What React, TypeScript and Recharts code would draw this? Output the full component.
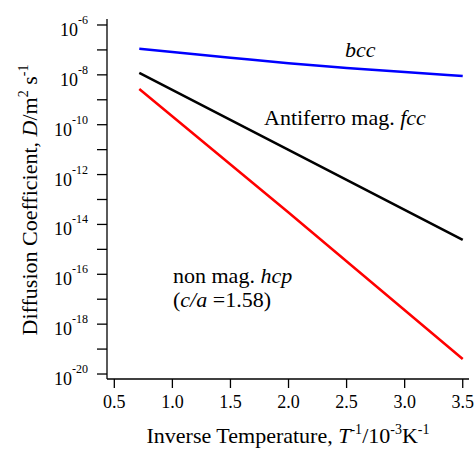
import React from 'react';
import { LineChart, Line, XAxis, YAxis, Customized } from 'recharts';

const FONT = '"Liberation Serif", "Times New Roman", serif';

const xTicks = [0.5, 1.0, 1.5, 2.0, 2.5, 3.0, 3.5];
const yTicks = [1e-20, 1e-19, 1e-18, 1e-17, 1e-16, 1e-15, 1e-14, 1e-13, 1e-12, 1e-11, 1e-10, 1e-9, 1e-8, 1e-7, 1e-6];

const bccX = [0.715, 1.0, 1.5, 2.0, 2.5, 3.0, 3.5];
const bccD = [1.12e-7, 8.3e-8, 4.9e-8, 2.9e-8, 1.9e-8, 1.29e-8, 8.9e-9];

const fccX = [0.715, 2.0, 3.5];
const fccD = [1.2e-8, 9.8e-12, 2.4e-15];

const hcpX = [0.715, 2.0, 3.5];
const hcpD = [2.7e-9, 3.0e-14, 4.0e-20];

const toRows = (xs: number[], ds: number[]) => xs.map((x, i) => ({ x, D: ds[i] }));
const bccData = toRows(bccX, bccD);
const fccData = toRows(fccX, fccD);
const hcpData = toRows(hcpX, hcpD);

const X_DOMAIN: [number, number] = [0.437, 3.554];
const Y_DOMAIN: [number, number] = [Math.pow(10, -20.2), Math.pow(10, -5.76)];

const YTick = (props: any) => {
  const { x, y, payload } = props;
  const e = Math.round(Math.log10(payload.value));
  if (e % 2 !== 0) return null;
  return (
    <text x={x} y={y + 11} textAnchor="end" fontSize={18} fontFamily={FONT} fill="#000">
      10
      <tspan dy={-12} fontSize={12}>{`-${-e}`}</tspan>
    </text>
  );
};

const Texts = () => (
  <g fontFamily={FONT} fill="#000">
    <text x={37} y={200} transform="rotate(-90 37 200)" textAnchor="middle" fontSize={22}>
      Diffusion Coefficient, <tspan fontStyle="italic">D</tspan>/m
      <tspan dy={-9} fontSize={14}>2</tspan>
      <tspan dy={9}> s</tspan>
      <tspan dy={-9} fontSize={14}>-1</tspan>
    </text>
    <text x={288} y={443} textAnchor="middle" fontSize={22}>
      Inverse Temperature, <tspan fontStyle="italic">T</tspan>
      <tspan dy={-9} fontSize={14}>-1</tspan>
      <tspan dy={9}>/10</tspan>
      <tspan dy={-9} fontSize={14}>-3</tspan>
      <tspan dy={9}>K</tspan>
      <tspan dy={-9} fontSize={14}>-1</tspan>
    </text>
    <text x={345} y={57} fontSize={22} fontStyle="italic">bcc</text>
    <text x={264} y={125} fontSize={22}>
      Antiferro mag. <tspan fontStyle="italic">fcc</tspan>
    </text>
    <text x={173} y={283} fontSize={22}>
      non mag. <tspan fontStyle="italic">hcp</tspan>
    </text>
    <text x={173} y={307} fontSize={22}>
      (<tspan fontStyle="italic">c/a</tspan> =1.58)
    </text>
  </g>
);

export default function App() {
  return (
    <div style={{ position: 'absolute', left: 0, top: 0, background: '#fff' }}>
      <LineChart width={476} height={450} margin={{ top: 19, right: 7, left: 0, bottom: 0 }}>
        <XAxis
          xAxisId="bottom"
          dataKey="x"
          type="number"
          domain={X_DOMAIN}
          allowDataOverflow
          ticks={xTicks}
          tickFormatter={(v: number) => v.toFixed(1)}
          height={71}
          tickSize={9}
          tickMargin={7}
          axisLine={{ stroke: '#000', strokeWidth: 1.3 }}
          tickLine={{ stroke: '#000', strokeWidth: 1.3 }}
          tick={{ fontSize: 18, fill: '#000', fontFamily: FONT }}
        />
        <XAxis
          xAxisId="top"
          orientation="top"
          dataKey="x"
          type="number"
          domain={X_DOMAIN}
          allowDataOverflow
          height={0}
          tick={false}
          tickLine={false}
          axisLine={{ stroke: '#000', strokeWidth: 1.3 }}
        />
        <YAxis
          yAxisId="left"
          type="number"
          scale="log"
          domain={Y_DOMAIN}
          allowDataOverflow
          ticks={yTicks}
          width={107}
          tickSize={10}
          tickMargin={9}
          interval={0}
          axisLine={{ stroke: '#000', strokeWidth: 1.3 }}
          tickLine={{ stroke: '#000', strokeWidth: 1.3 }}
          tick={<YTick />}
        />
        <YAxis
          yAxisId="right"
          orientation="right"
          type="number"
          scale="log"
          domain={Y_DOMAIN}
          allowDataOverflow
          width={0}
          tick={false}
          tickLine={false}
          axisLine={{ stroke: '#000', strokeWidth: 1.3 }}
        />
        <Line xAxisId="bottom" yAxisId="left" data={bccData} dataKey="D" stroke="#0000ff" strokeWidth={2.5} dot={false} type="monotone" isAnimationActive={false} />
        <Line xAxisId="bottom" yAxisId="left" data={fccData} dataKey="D" stroke="#000000" strokeWidth={2.5} dot={false} type="linear" isAnimationActive={false} />
        <Line xAxisId="bottom" yAxisId="left" data={hcpData} dataKey="D" stroke="#ff0000" strokeWidth={2.5} dot={false} type="linear" isAnimationActive={false} />
        <Customized component={Texts} />
      </LineChart>
    </div>
  );
}
